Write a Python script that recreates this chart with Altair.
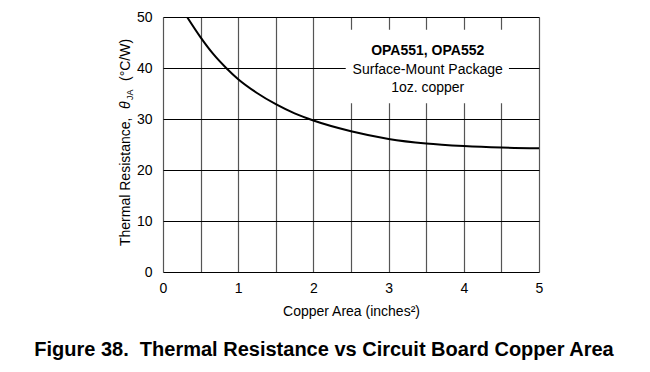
import altair as alt
import pandas as pd

# Curve data
area = [0.32, 0.5, 0.67, 0.84, 1.0, 1.25, 1.5, 1.75, 2.0, 2.5, 3.0, 3.5, 4.0, 4.5, 5.0]
theta_ja = [50.0, 46.0, 42.7, 40.0, 37.8, 35.1, 32.9, 31.1, 29.7, 27.6, 26.1, 25.2, 24.7, 24.4, 24.25]

x_ticks = [0, 0.5, 1, 1.5, 2, 2.5, 3, 3.5, 4, 4.5, 5]
y_ticks = [0, 10, 20, 30, 40, 50]

legend_lines = ["OPA551, OPA552", "Surface-Mount Package", "1oz. copper"]
legend_y = [43.3, 39.6, 36.1]
legend_x = 3.52
box = {"x": 2.43, "x2": 4.6, "y": 33.1, "y2": 47.5}

FONT = "Liberation Sans"
W, H = 376, 255

curve_df = pd.DataFrame({"area": area, "theta": theta_ja})

xscale = alt.Scale(domain=[0, 5], nice=False)
yscale = alt.Scale(domain=[0, 50], nice=False)

xaxis = alt.Axis(values=x_ticks, title="Copper Area (inches²)",
                 labelExpr="datum.value % 1 == 0 ? format(datum.value, 'd') : ''",
                 grid=True, gridColor="#555555", gridWidth=1.2,
                 ticks=False, domain=False, labelPadding=9, labelFlush=False,
                 labelOverlap=False,
                 labelFont=FONT, labelFontSize=14, labelColor="black",
                 titleFont=FONT, titleFontSize=14, titleFontWeight="normal",
                 titleColor="black", titlePadding=9)
yaxis = alt.Axis(values=y_ticks, title=None, format="d",
                 grid=True, gridColor="black", gridWidth=1,
                 ticks=False, domain=False, labelPadding=11, labelFlush=False,
                 labelOverlap=False,
                 labelFont=FONT, labelFontSize=14, labelColor="black")

curve = alt.Chart(curve_df).mark_line(color="black", strokeWidth=2, interpolate="monotone",
                                      clip=True).encode(
    x=alt.X("area:Q", scale=xscale, axis=xaxis),
    y=alt.Y("theta:Q", scale=yscale, axis=yaxis),
)

box_df = pd.DataFrame([box])
white_box = alt.Chart(box_df).mark_rect(color="white").encode(
    x=alt.X("x:Q", scale=xscale, axis=xaxis), x2="x2:Q",
    y=alt.Y("y:Q", scale=yscale, axis=yaxis), y2="y2:Q",
)

leg_df = pd.DataFrame({"t": legend_lines, "y": legend_y, "x": [legend_x] * 3})
leg_bold = alt.Chart(leg_df.iloc[[0]]).mark_text(font=FONT, fontSize=14, fontWeight="bold",
                                                 color="black").encode(
    x=alt.X("x:Q", scale=xscale, axis=xaxis), y=alt.Y("y:Q", scale=yscale, axis=yaxis),
    text="t:N")
leg_norm = alt.Chart(leg_df.iloc[1:]).mark_text(font=FONT, fontSize=14, color="black").encode(
    x=alt.X("x:Q", scale=xscale, axis=xaxis), y=alt.Y("y:Q", scale=yscale, axis=yaxis),
    text="t:N")

one = pd.DataFrame({"k": [0]})


def txt(text, x, y, size=14, **kw):
    return alt.Chart(one).mark_text(text=text, font=FONT, fontSize=size, color="black",
                                    **kw).encode(x=alt.value(x), y=alt.value(y))


ytitle = [
    txt("Thermal Resistance, ", -33, 229, angle=270, align="left", baseline="alphabetic"),
    txt("θ", -33, 92, angle=270, align="left", baseline="alphabetic", fontStyle="italic"),
    txt("JA", -30, 83, size=9, angle=270, align="left", baseline="alphabetic"),
    txt("(°C/W)", -33, 64, angle=270, align="left", baseline="alphabetic"),
]

caption = txt("Figure 38.\u00a0 Thermal Resistance vs Circuit Board Copper Area", 161, 339,
              size=20, fontWeight="bold", align="center", baseline="alphabetic")

chart = alt.layer(white_box, curve, leg_bold, leg_norm, *ytitle, caption).properties(
    width=W, height=H,
    autosize=alt.AutoSizeParams(type="none"),
    padding={"left": 155, "top": 9, "right": 100, "bottom": 90},
).configure_view(stroke="black", strokeWidth=2).configure(background="white")

chart.save("out.html", embed_options={"renderer": "svg", "actions": False})
